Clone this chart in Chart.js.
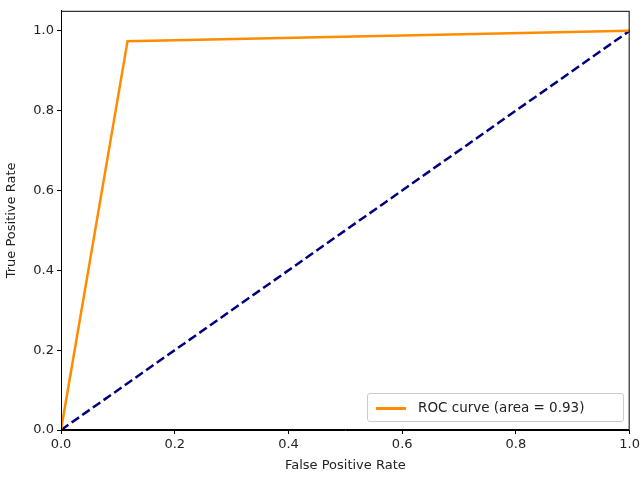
<!DOCTYPE html>
<html><head><meta charset="utf-8">
<script src="https://cdn.jsdelivr.net/npm/chart.js@4"></script>
<style>html,body{margin:0;padding:0;background:#fff}#w{position:relative;width:643px;height:477px}
#lg{position:absolute;left:367px;top:393px;width:257px;height:29px;border:1px solid #ccc;border-radius:3px;background:rgba(255,255,255,0.8);font:13.5px "DejaVu Sans";color:#222;box-sizing:border-box}
#lg span.l{position:absolute;left:8px;top:13px;width:30px;height:2.5px;background:darkorange}
#lg span.t{position:absolute;left:50px;top:5px}</style></head>
<body><div id="w"><canvas id="c" width="643" height="477"></canvas>
<div id="lg"><span class="l"></span><span class="t">ROC curve (area = 0.93)</span></div></div>
<script>
const fpr=[0,0.117,1];
const tpr=[0,0.974,1];
const diagX=[0,1];
const diagY=[0,1];
const xTicks=[0,0.2,0.4,0.6,0.8,1.0];
const yTicks=[0,0.2,0.4,0.6,0.8,1.0];
const frame={id:'frame',afterDraw(c){const a=c.chartArea,x=c.ctx;x.save();x.strokeStyle='#000';x.lineWidth=1;x.strokeRect(a.left+0.5,a.top+0.5,a.right-a.left-1,a.bottom-a.top-1);x.restore();}};
const font={family:'DejaVu Sans',size:13};
new Chart(document.getElementById('c'),{type:'scatter',
data:{datasets:[
{data:fpr.map((v,i)=>({x:v,y:tpr[i]})),showLine:true,borderColor:'darkorange',borderWidth:2.5,pointRadius:0,tension:0},
{data:diagX.map((v,i)=>({x:v,y:diagY[i]})),showLine:true,borderColor:'navy',borderWidth:2.5,borderDash:[9,4],pointRadius:0}]},
options:{responsive:false,animation:false,layout:{padding:{top:6,right:13,left:0,bottom:0}},
plugins:{legend:{display:false},tooltip:{enabled:false}},
scales:{
x:{type:'linear',min:0,max:1,afterFit(s){s.height=47},afterBuildTicks(s){s.ticks=xTicks.map(v=>({value:v}))},
ticks:{font,color:'#222',callback:v=>v.toFixed(1),padding:3,maxRotation:0},
grid:{drawOnChartArea:false,drawTicks:true,tickLength:4,color:'#000'},border:{color:'#000'},
title:{display:true,text:'False Positive Rate',font,color:'#222',padding:{top:2}}},
y:{type:'linear',min:0,max:1.05,afterFit(s){s.width=61},afterBuildTicks(s){s.ticks=yTicks.map(v=>({value:v}))},
ticks:{font,color:'#222',callback:v=>v.toFixed(1),padding:3},
grid:{drawOnChartArea:false,drawTicks:true,tickLength:4,color:'#000'},border:{color:'#000'},
title:{display:true,text:'True Positive Rate',font,color:'#222',padding:{bottom:2}}}}},
plugins:[frame]});
</script></body></html>
